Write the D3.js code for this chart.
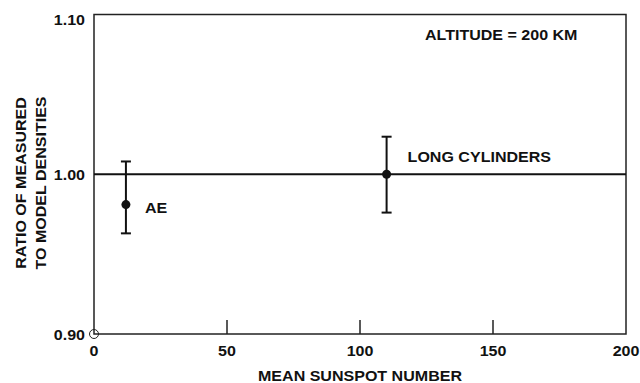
<!DOCTYPE html>
<html>
<head>
<meta charset="utf-8">
<script src="https://cdn.jsdelivr.net/npm/d3@7"></script>
<style>
  body { margin: 0; background: #fff; }
  text { font-family: "Liberation Sans", Arial, sans-serif; font-weight: bold; font-size: 15px; fill: #111; }
</style>
</head>
<body>
<div id="chart"></div>
<script>
// data
const labels = ["AE", "LONG CYLINDERS"];
const sunspot = [12, 110];
const ratio = [0.981, 1.000];
const ratioLow = [0.963, 0.976];
const ratioHigh = [1.008, 1.0235];
const xTicks = [0, 50, 100, 150, 200];
const yTicks = [0.90, 1.00, 1.10];

const width = 640, height = 383;
const margin = {top: 14.5, right: 14, bottom: 49, left: 94};
const stretch = 1.07; // the lettering in the original is a bit wide

const svg = d3.select("#chart")
    .append("svg")
    .attr("width", width)
    .attr("height", height);

const x = d3.scaleLinear()
    .domain([0, 200])
    .range([margin.left, width - margin.right]);

const y = d3.scaleLinear()
    .domain([0.90, 1.10])
    .range([height - margin.bottom, margin.top]);

// helper for the wide-ish labels
function label(px, py, str, anchor, rot) {
    return svg.append("text")
        .attr("transform", `translate(${px},${py})` + (rot ? ` rotate(${rot})` : "") + ` scale(${stretch},1)`)
        .attr("text-anchor", anchor)
        .text(str);
}

// frame
svg.append("rect")
    .attr("x", x(0))
    .attr("y", y(1.10))
    .attr("width", x(200) - x(0))
    .attr("height", y(0.90) - y(1.10))
    .attr("fill", "none")
    .attr("stroke", "#222")
    .attr("stroke-width", 1.5);

// x ticks (inward, bottom only)
svg.append("g")
    .selectAll("line")
    .data(xTicks.slice(1, -1))
    .join("line")
    .attr("x1", d => x(d))
    .attr("x2", d => x(d))
    .attr("y1", y(0.90))
    .attr("y2", y(0.90) - 14)
    .attr("stroke", "#222")
    .attr("stroke-width", 1.5);

// x tick labels
xTicks.forEach(t => label(x(t), y(0.90) + 21.5, t, "middle"));

// y tick labels
yTicks.forEach(t => {
    const off = t === 1.10 ? 10.5 : 5.5;
    label(x(0) - 9, y(t) + off, t.toFixed(2), "end");
});

// open circle at origin
svg.append("circle")
    .attr("cx", x(0))
    .attr("cy", y(0.90))
    .attr("r", 4.5)
    .attr("fill", "none")
    .attr("stroke", "#222")
    .attr("stroke-width", 1);

// reference line at 1.00
svg.append("line")
    .attr("x1", x(0))
    .attr("x2", x(200))
    .attr("y1", y(1.00))
    .attr("y2", y(1.00))
    .attr("stroke", "#111")
    .attr("stroke-width", 2.2);

// error bars
const idx = d3.range(labels.length);
const bars = svg.append("g")
    .attr("stroke", "#111")
    .attr("stroke-width", 2);

bars.selectAll(".stem")
    .data(idx)
    .join("line")
    .attr("x1", i => x(sunspot[i]))
    .attr("x2", i => x(sunspot[i]))
    .attr("y1", i => y(ratioLow[i]))
    .attr("y2", i => y(ratioHigh[i]));

bars.selectAll(".capTop")
    .data(idx)
    .join("line")
    .attr("x1", i => x(sunspot[i]) - 5)
    .attr("x2", i => x(sunspot[i]) + 5)
    .attr("y1", i => y(ratioHigh[i]))
    .attr("y2", i => y(ratioHigh[i]));

bars.selectAll(".capBot")
    .data(idx)
    .join("line")
    .attr("x1", i => x(sunspot[i]) - 5)
    .attr("x2", i => x(sunspot[i]) + 5)
    .attr("y1", i => y(ratioLow[i]))
    .attr("y2", i => y(ratioLow[i]));

// points
svg.append("g")
    .selectAll("circle")
    .data(idx)
    .join("circle")
    .attr("cx", i => x(sunspot[i]))
    .attr("cy", i => y(ratio[i]))
    .attr("r", 4.5)
    .attr("fill", "#111");

// point labels
label(x(sunspot[0]) + 19, y(ratio[0]) + 8.5, labels[0], "start");
label(x(sunspot[1]) + 21, y(ratio[1]) - 12, labels[1], "start");

// annotation
label(425, 39.5, "ALTITUDE = 200 KM", "start");

// axis titles
label((x(0) + x(200)) / 2, 380.5, "MEAN SUNSPOT NUMBER", "middle");
label(25.5, 183, "RATIO OF MEASURED", "middle", -90);
label(45.5, 183, "TO MODEL DENSITIES", "middle", -90);
</script>
</body>
</html>
